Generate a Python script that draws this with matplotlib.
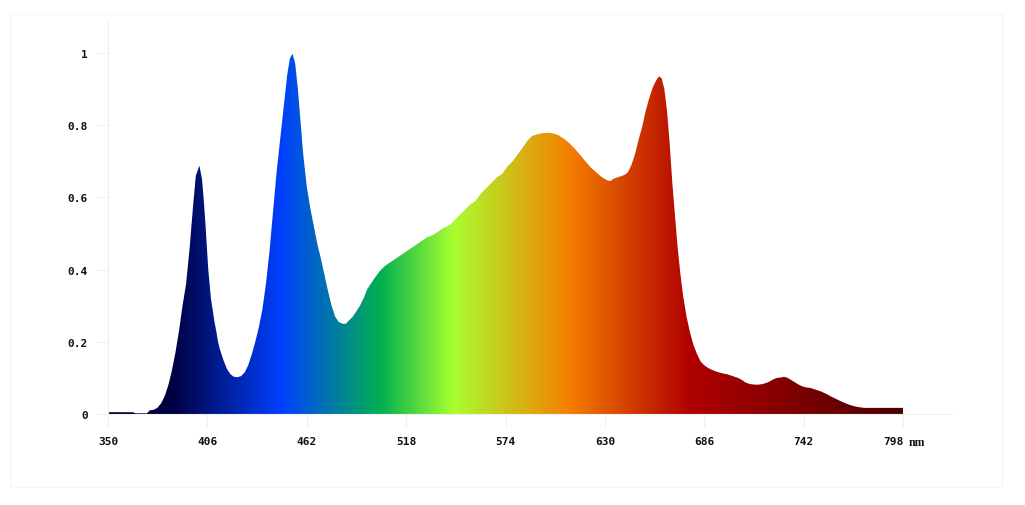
#!/usr/bin/env python3
"""Relative spectral distribution with a wavelength-coloured fill.

Run:  python3 plot.py
Writes: out.png
"""
import numpy as np
import matplotlib
matplotlib.use("Agg")
import matplotlib.pyplot as plt
from matplotlib.colors import LinearSegmentedColormap
from matplotlib.patches import Rectangle

OUT = "out.png"

# ---------- data ----------
WAVELENGTH = [
    350, 364, 365.5, 372, 373.5, 376, 378, 380, 382, 384, 386, 388, 390, 392,
    394, 396, 398, 399.5, 401.5, 403, 404, 405, 406.5, 408, 410, 411, 412, 413,
    415, 417, 419, 421, 423, 425, 427, 429, 431, 433, 435, 437, 439, 441, 443,
    445, 447, 449, 451, 452.5, 454, 455.5, 457, 458.5, 460, 462, 464, 466, 468,
    470, 472, 474, 476, 478, 480, 482, 484, 486, 488, 490, 492, 494, 496, 498,
    500, 503, 506, 509, 512, 515, 518, 521, 524, 527, 530, 533, 536, 539, 541,
    543, 545, 548, 551, 554, 557, 560, 563, 566, 569, 572, 575, 578, 581, 584,
    586.5, 589, 592, 595, 598, 601, 604, 607, 610, 613, 616, 619, 622, 625,
    628, 631, 633, 635, 638, 641, 643, 645, 647, 649, 651, 653, 655, 657, 659,
    660.5, 662, 663.5, 665, 666.5, 668, 669.5, 671, 672.5, 674, 676, 678, 680,
    682, 684, 686, 688, 690, 693, 696, 699, 702, 705, 707, 709, 711, 713, 716,
    719, 722, 725, 727, 729, 731, 733, 735, 737, 739, 741, 743, 746, 749, 752,
    755, 758, 761, 764, 767, 770, 773, 776, 798,
]
INTENSITY = [
    0.005, 0.005, 0.002, 0.002, 0.010, 0.012, 0.018, 0.03, 0.05, 0.08, 0.12,
    0.17, 0.23, 0.30, 0.36, 0.46, 0.58, 0.66, 0.688, 0.65, 0.59, 0.52, 0.40,
    0.32, 0.255, 0.23, 0.20, 0.18, 0.15, 0.125, 0.11, 0.103, 0.102, 0.105,
    0.115, 0.135, 0.165, 0.20, 0.24, 0.29, 0.36, 0.45, 0.56, 0.67, 0.76, 0.85,
    0.94, 0.985, 0.998, 0.97, 0.90, 0.81, 0.72, 0.63, 0.57, 0.52, 0.47, 0.43,
    0.385, 0.34, 0.30, 0.27, 0.255, 0.25, 0.25, 0.26, 0.27, 0.285, 0.30, 0.32,
    0.345, 0.36, 0.375, 0.395, 0.41, 0.42, 0.43, 0.44, 0.45, 0.46, 0.47, 0.48,
    0.49, 0.495, 0.505, 0.515, 0.52, 0.525, 0.535, 0.55, 0.565, 0.58, 0.59,
    0.61, 0.625, 0.64, 0.655, 0.665, 0.685, 0.70, 0.72, 0.74, 0.758, 0.77,
    0.775, 0.778, 0.779, 0.777, 0.772, 0.762, 0.75, 0.735, 0.718, 0.70, 0.683,
    0.67, 0.657, 0.648, 0.645, 0.652, 0.657, 0.662, 0.67, 0.69, 0.72, 0.76,
    0.795, 0.84, 0.875, 0.905, 0.925, 0.935, 0.93, 0.90, 0.84, 0.75, 0.64,
    0.55, 0.46, 0.39, 0.33, 0.27, 0.225, 0.19, 0.165, 0.145, 0.135, 0.128,
    0.123, 0.117, 0.113, 0.11, 0.105, 0.10, 0.095, 0.088, 0.084, 0.082, 0.081,
    0.083, 0.088, 0.096, 0.100, 0.101, 0.103, 0.100, 0.094, 0.088, 0.082,
    0.077, 0.074, 0.072, 0.067, 0.062, 0.055, 0.047, 0.04, 0.033, 0.027,
    0.022, 0.019, 0.017, 0.017,
]

X_TICKS = [350, 406, 462, 518, 574, 630, 686, 742, 798]
Y_TICKS = [0, 0.2, 0.4, 0.6, 0.8, 1]
Y_LABELS = ["0", "0.2", "0.4", "0.6", "0.8", "1"]

# colour of the fill at a given wavelength
STOP_NM = [350, 385, 447, 503, 544, 609, 678, 798]
STOP_COLORS = ["#00002e", "#000040", "#0040ff", "#00b050",
               "#a8ff30", "#f58000", "#b00000", "#4a0000"]

W, H = 1025, 506
FAINT = "#f0f0f0"
MONO = "DejaVu Sans Mono"


def main():
    wl = np.asarray(WAVELENGTH, dtype=float)
    val = np.asarray(INTENSITY, dtype=float)

    fig = plt.figure(figsize=(W / 100, H / 100), dpi=100)
    fig.patch.set_facecolor("white")

    # faint outer frame
    fig.patches.append(Rectangle((10 / W, 1 - 488 / H), 992 / W, 473 / H,
                                 transform=fig.transFigure, fill=False,
                                 ec="#f5f5f5", lw=0.8))

    ax = fig.add_axes([108 / W, 1 - 415 / H, (952 - 108) / W, (415 - 20) / H])
    x_max = 350 + (952 - 108) / 1.7746
    ax.set_xlim(350, x_max)
    ax.set_ylim(0, (415 - 20) / 361)

    # ---------- gradient fill clipped to the spectrum ----------
    lo, hi = STOP_NM[0], STOP_NM[-1]
    pos = [(s - lo) / (hi - lo) for s in STOP_NM]
    cmap = LinearSegmentedColormap.from_list("spec", list(zip(pos, STOP_COLORS)))
    poly = ax.fill_between(wl, val, 0, color="none", lw=0)
    grad = np.linspace(0, 1, 1200).reshape(1, -1)
    im = ax.imshow(grad, extent=[lo, hi, 0, 1.01], aspect="auto", cmap=cmap,
                   interpolation="bilinear", origin="lower", zorder=2)
    im.set_clip_path(poly.get_paths()[0], transform=ax.transData)

    # ---------- axes styling ----------
    for side in ("top", "right"):
        ax.spines[side].set_visible(False)
    for side in ("left", "bottom"):
        ax.spines[side].set_color(FAINT)
        ax.spines[side].set_linewidth(0.8)

    ax.set_xticks(X_TICKS)
    ax.set_xticklabels([str(t) for t in X_TICKS])
    ax.set_yticks(Y_TICKS)
    ax.set_yticklabels(Y_LABELS)
    ax.tick_params(axis="x", length=9, width=0.8, color=FAINT, pad=6.5,
                   labelsize=8, labelcolor="#111111")
    ax.tick_params(axis="y", length=9.5, width=0.8, color=FAINT, pad=5,
                   labelsize=8, labelcolor="#111111")
    for lab in ax.get_xticklabels() + ax.get_yticklabels():
        lab.set_fontfamily(MONO)
        lab.set_fontweight("bold")
    ax.get_xticklabels()[-1].set_horizontalalignment("right")

    ax.annotate("nm", xy=(798, 0), xycoords="data", xytext=(6, -27.5),
                textcoords="offset pixels", ha="left", va="center",
                fontsize=8.5, fontfamily="Liberation Serif", fontweight="bold",
                color="#111111")

    fig.savefig(OUT, dpi=100, facecolor="white")
    print(f"wrote {OUT}")


if __name__ == "__main__":
    main()
